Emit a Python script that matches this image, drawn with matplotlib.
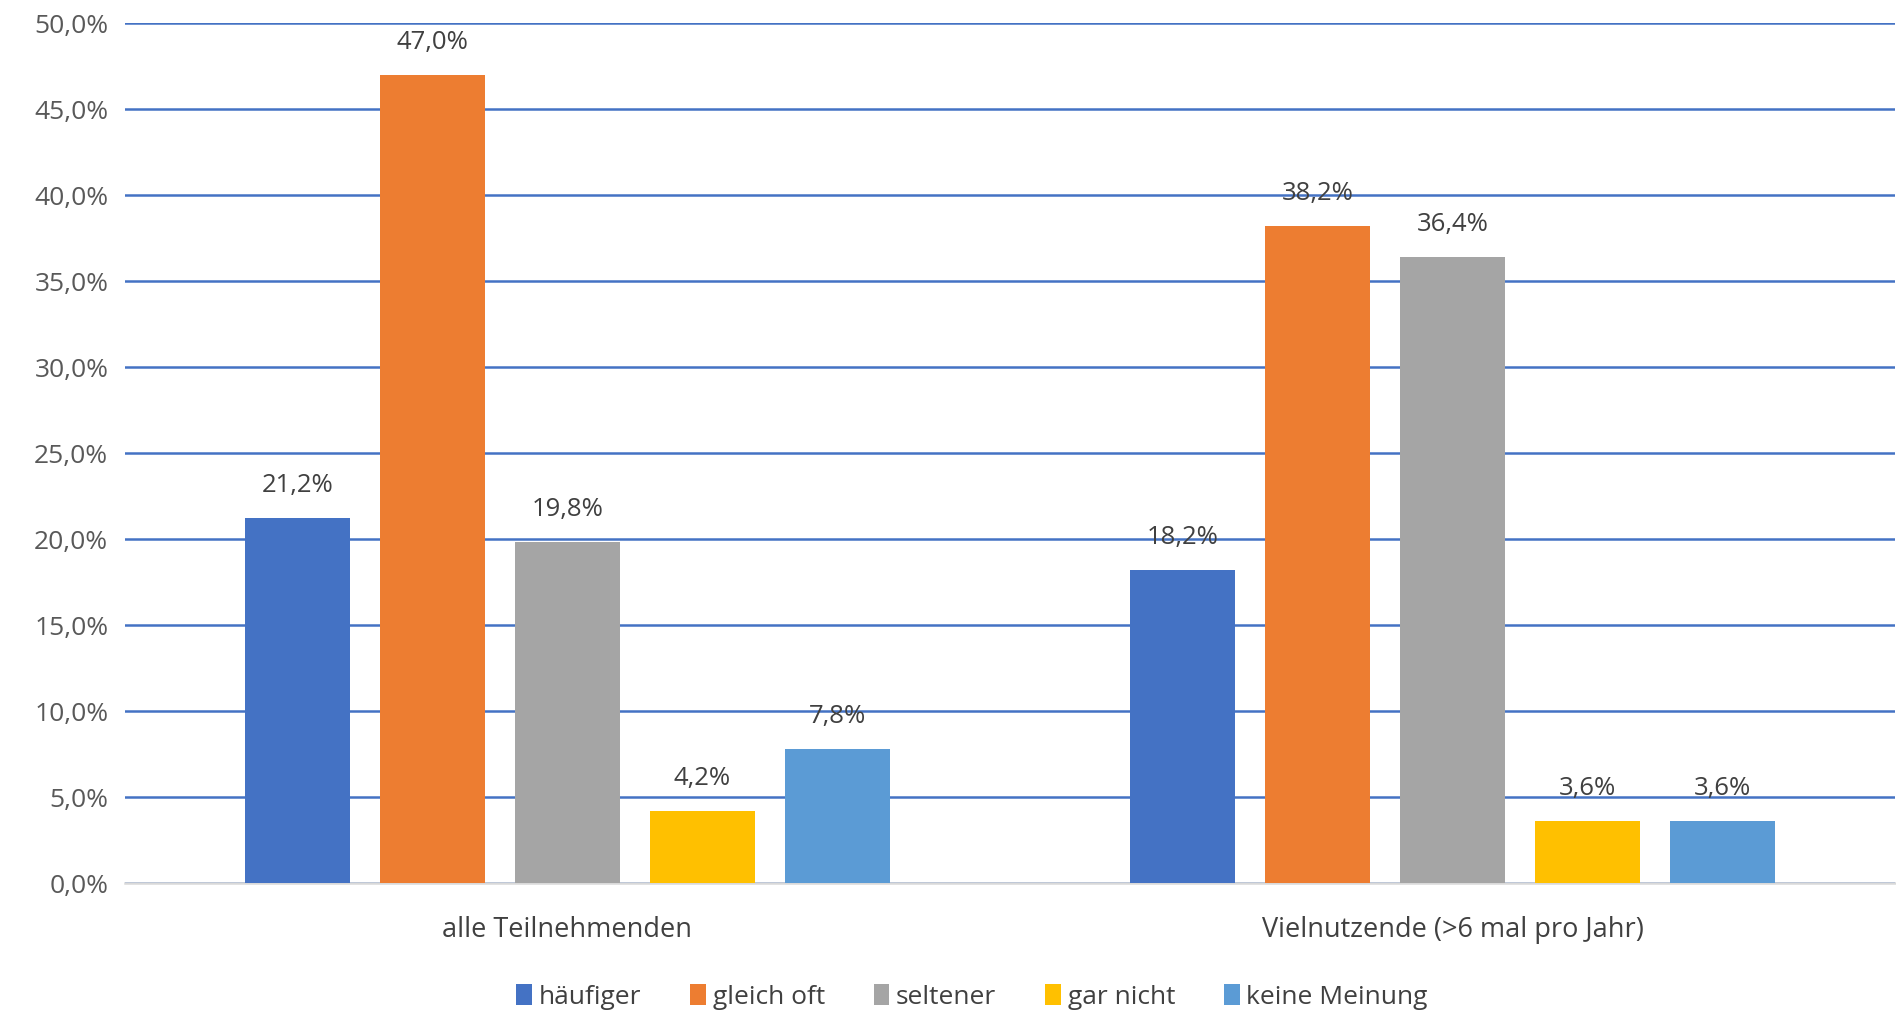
import matplotlib
matplotlib.use("Agg")
import matplotlib.pyplot as plt
import numpy as np
from matplotlib.ticker import FuncFormatter
from matplotlib.patches import Patch

categories = ["alle Teilnehmenden", "Vielnutzende (>6 mal pro Jahr)"]
series_names = ["häufiger", "gleich oft", "seltener", "gar nicht", "keine Meinung"]
haeufiger = [21.2, 18.2]
gleich_oft = [47.0, 38.2]
seltener = [19.8, 36.4]
gar_nicht = [4.2, 3.6]
keine_meinung = [7.8, 3.6]
series_values = [haeufiger, gleich_oft, seltener, gar_nicht, keine_meinung]
colors = ["#4472C4", "#ED7D31", "#A5A5A5", "#FFC000", "#5B9BD5"]

plt.rcParams['font.family'] = ['Open Sans', 'DejaVu Sans']

fig = plt.figure(figsize=(18.96, 10.13), dpi=100)
ax = fig.add_axes([125/1896, 1 - 883/1013, 1770/1896, (883 - 23)/1013])

x = np.arange(len(categories))
slot = 135 / 885
width = 105 / 885
for i, (name, vals, c) in enumerate(zip(series_names, series_values, colors)):
    pos = x + (i - 2) * slot
    bars = ax.bar(pos, vals, width=width, color=c, zorder=3, label=name)
    for b, v in zip(bars, vals):
        ax.annotate(f"{v:.1f}%".replace(".", ","), (b.get_x() + b.get_width() / 2, v),
                    xytext=(0, 20), textcoords="offset pixels", ha="center", va="bottom",
                    fontsize=18.5, color="#404040", zorder=4)

ax.set_xlim(-0.5, 1.5)
ax.set_ylim(0, 50)
ax.set_yticks(np.arange(0, 51, 5))
ax.yaxis.set_major_formatter(FuncFormatter(lambda v, p: f"{v:.1f}%".replace(".", ",")))
ax.set_xticks(x)
ax.set_xticklabels(categories)
ax.tick_params(axis="y", length=0, pad=12, labelsize=19, labelcolor="#595959")
ax.tick_params(axis="x", length=0, pad=24, labelsize=19.5, labelcolor="#404040")
ax.grid(axis="y", color="#4472C4", linewidth=1.8, zorder=0)
ax.set_axisbelow(True)
for s in ["top", "right", "left"]:
    ax.spines[s].set_visible(False)
ax.spines["bottom"].set_color("#D9D9D9")
ax.spines["bottom"].set_linewidth(1.8)
ax.spines["bottom"].set_zorder(2)

handles = [Patch(facecolor=c, label=n) for n, c in zip(series_names, colors)]
fig.legend(handles=handles, loc="center", bbox_to_anchor=(972/1896, 1 - 997/1013), ncol=5,
           frameon=False, fontsize=19, handlelength=0.6, handleheight=0.85,
           handletextpad=0.25, columnspacing=1.85, labelcolor="#404040")

fig.savefig("out.png", dpi=100, facecolor="white")
